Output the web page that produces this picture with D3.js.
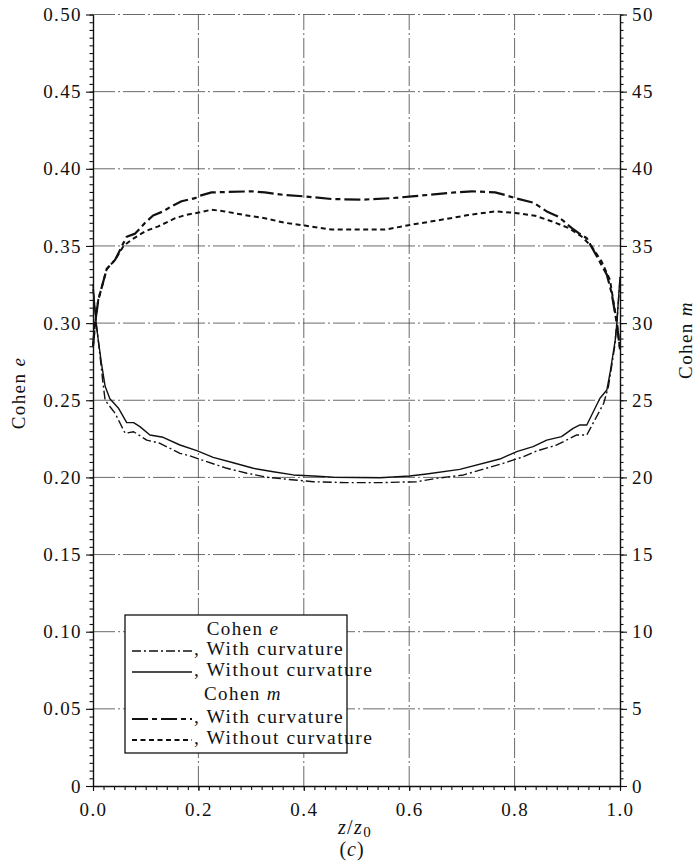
<!DOCTYPE html>
<html><head><meta charset="utf-8">
<script src="https://cdn.jsdelivr.net/npm/d3@7"></script>
<style>
html,body{margin:0;padding:0;background:#fff;}
svg{display:block;}
text{font-family:"Liberation Serif","Times New Roman",serif;fill:#111;}
</style></head>
<body><svg id="c" width="698" height="861"></svg>
<script>
// ---- data ----
const xTicks = [0.0, 0.2, 0.4, 0.6, 0.8, 1.0];
const xTickLabels = ["0.0", "0.2", "0.4", "0.6", "0.8", "1.0"];
const eTicks = [0, 0.05, 0.10, 0.15, 0.20, 0.25, 0.30, 0.35, 0.40, 0.45, 0.50];
const eTickLabels = ["0", "0.05", "0.10", "0.15", "0.20", "0.25", "0.30", "0.35", "0.40", "0.45", "0.50"];
const mTicks = [0, 5, 10, 15, 20, 25, 30, 35, 40, 45, 50];
const mTickLabels = ["0", "5", "10", "15", "20", "25", "30", "35", "40", "45", "50"];

// Cohen e, with curvature (left axis)
const zEWith = [0, 0.006, 0.01, 0.019, 0.023, 0.042, 0.061, 0.077, 0.102, 0.127, 0.165, 0.184, 0.216, 0.254, 0.292, 0.330, 0.368, 0.418, 0.481, 0.545, 0.614, 0.652, 0.703, 0.753, 0.779, 0.817, 0.842, 0.880, 0.905, 0.918, 0.937, 0.969, 0.978, 0.99, 0.994, 1.0];
const eWith = [0.322, 0.300, 0.289, 0.261, 0.250, 0.2415, 0.2286, 0.2296, 0.2242, 0.2221, 0.2156, 0.2139, 0.2102, 0.2059, 0.2027, 0.2001, 0.1988, 0.1972, 0.1966, 0.1966, 0.1972, 0.1994, 0.2016, 0.2066, 0.2092, 0.2134, 0.2171, 0.221, 0.2253, 0.2275, 0.2275, 0.248, 0.2588, 0.285, 0.30, 0.328];
// Cohen e, without curvature
const zEWithout = [0, 0.006, 0.01, 0.016, 0.023, 0.032, 0.048, 0.064, 0.077, 0.089, 0.108, 0.133, 0.165, 0.197, 0.228, 0.266, 0.304, 0.342, 0.380, 0.418, 0.456, 0.545, 0.601, 0.633, 0.696, 0.772, 0.804, 0.835, 0.861, 0.889, 0.911, 0.924, 0.937, 0.962, 0.975, 0.981, 0.991, 0.994, 1.0];
const eWithout = [0.325, 0.300, 0.289, 0.274, 0.259, 0.251, 0.245, 0.2355, 0.2355, 0.2329, 0.2275, 0.226, 0.221, 0.2173, 0.213, 0.2095, 0.2059, 0.2037, 0.2016, 0.2009, 0.2001, 0.1998, 0.2009, 0.2022, 0.2052, 0.2119, 0.2167, 0.2199, 0.2242, 0.2264, 0.2318, 0.234, 0.234, 0.2513, 0.2566, 0.2675, 0.289, 0.30, 0.33];
// Cohen m, with curvature (right axis)
const zMWith = [0, 0.004, 0.01, 0.026, 0.042, 0.058, 0.064, 0.08, 0.099, 0.114, 0.133, 0.149, 0.168, 0.194, 0.203, 0.225, 0.301, 0.326, 0.364, 0.402, 0.453, 0.51, 0.567, 0.605, 0.687, 0.719, 0.763, 0.782, 0.801, 0.836, 0.861, 0.883, 0.908, 0.921, 0.937, 0.949, 0.975, 0.984, 0.994, 1.0];
const mWith = [28.5, 30.0, 31.5, 33.5, 34.1, 35.2, 35.6, 35.8, 36.5, 36.97, 37.24, 37.57, 37.9, 38.1, 38.26, 38.47, 38.54, 38.47, 38.3, 38.21, 38.04, 38.0, 38.1, 38.21, 38.47, 38.54, 38.47, 38.3, 38.1, 37.8, 37.24, 36.9, 36.17, 35.84, 35.5, 34.76, 33.14, 31.96, 30.0, 28.3];
// Cohen m, without curvature
const zMWithout = [0, 0.004, 0.01, 0.026, 0.042, 0.058, 0.073, 0.099, 0.124, 0.156, 0.175, 0.203, 0.225, 0.25, 0.288, 0.326, 0.364, 0.402, 0.453, 0.51, 0.554, 0.605, 0.655, 0.712, 0.763, 0.801, 0.839, 0.87, 0.902, 0.927, 0.946, 0.965, 0.981, 0.994, 1.0];
const mWithout = [28.5, 30.0, 31.5, 33.5, 34.1, 35.0, 35.4, 35.95, 36.27, 36.8, 37.0, 37.18, 37.35, 37.24, 37.0, 36.8, 36.5, 36.32, 36.06, 36.06, 36.06, 36.38, 36.66, 37.0, 37.24, 37.14, 36.96, 36.6, 36.17, 35.62, 34.97, 34.0, 32.8, 30.0, 28.3];

const legendLabels = ["Cohen e", ", With curvature", ", Without curvature", "Cohen m", ", With curvature", ", Without curvature"];

// ---- layout ----
const L = 93, R = 620, T = 14.5, B = 786;
const svg = d3.select("#c");
const x = d3.scaleLinear().domain([0, 1]).range([L, R]);
const yE = d3.scaleLinear().domain([0, 0.5]).range([B, T]);
const yM = d3.scaleLinear().domain([0, 50]).range([B, T]);

// horizontal grid
svg.append("g").selectAll("line").data(eTicks.filter(d => d > 0)).join("line")
  .attr("x1", L).attr("x2", R).attr("y1", d => yE(d)).attr("y2", d => yE(d))
  .attr("stroke", "#444").attr("stroke-width", 0.8).attr("stroke-dasharray", "22,3,2,3");
// vertical grid
svg.append("g").selectAll("line").data(xTicks.filter(d => d > 0 && d < 1)).join("line")
  .attr("x1", d => x(d)).attr("x2", d => x(d)).attr("y1", B).attr("y2", T)
  .attr("stroke", "#444").attr("stroke-width", 0.8).attr("stroke-dasharray", "20,3,2,3");

// axes
function styleAxis(g) {
  g.selectAll("path.domain").attr("stroke", "#111").attr("stroke-width", 1.4);
  g.selectAll(".tick line").attr("stroke", "#111").attr("stroke-width", 1.1);
  g.selectAll(".tick text").style("font-family", '"Liberation Serif","Times New Roman",serif')
    .style("font-size", "19px").style("letter-spacing", "1.4px").attr("fill", "#111");
}
const eMinor = d3.range(0, 0.5001, 0.005);
const mMinor = d3.range(0, 50.01, 0.5);
const xMinor = d3.range(0, 1.0001, 0.02);

svg.append("g").attr("transform", `translate(${L},0)`)
  .call(d3.axisLeft(yE).tickValues(eMinor).tickSize(3.5).tickFormat("").tickSizeOuter(0))
  .call(styleAxis);
svg.append("g").attr("transform", `translate(${L},0)`)
  .call(d3.axisLeft(yE).tickValues(eTicks).tickSize(7).tickPadding(4).tickSizeOuter(0)
    .tickFormat((d, i) => eTickLabels[i]))
  .call(styleAxis).call(g => g.select("path.domain").remove());

svg.append("g").attr("transform", `translate(${R},0)`)
  .call(d3.axisRight(yM).tickValues(mMinor).tickSize(3.5).tickFormat("").tickSizeOuter(0))
  .call(styleAxis);
svg.append("g").attr("transform", `translate(${R},0)`)
  .call(d3.axisRight(yM).tickValues(mTicks).tickSize(7).tickPadding(5).tickSizeOuter(0)
    .tickFormat((d, i) => mTickLabels[i]))
  .call(styleAxis).call(g => g.select("path.domain").remove());

svg.append("g").attr("transform", `translate(0,${B})`)
  .call(d3.axisBottom(x).tickValues(xMinor).tickSize(4).tickFormat("").tickSizeOuter(0))
  .call(styleAxis);
svg.append("g").attr("transform", `translate(0,${B})`)
  .call(d3.axisBottom(x).tickValues(xTicks).tickSize(5).tickPadding(12).tickSizeOuter(0)
    .tickFormat((d, i) => xTickLabels[i]))
  .call(styleAxis).call(g => g.select("path.domain").remove());

// series
const lineE = d3.line().x(d => x(d[0])).y(d => yE(d[1]));
const lineM = d3.line().x(d => x(d[0])).y(d => yM(d[1]));
const styles = {
  eWith:    {dash: "9,3,2,3", w: 1.4},
  eWithout: {dash: null, w: 1.4},
  mWith:    {dash: "16,4,5,4", w: 2.2},
  mWithout: {dash: "5,3.5", w: 2.0}
};
function draw(gen, zs, vs, st) {
  svg.append("path").datum(zs.map((z, i) => [z, vs[i]]))
    .attr("d", gen).attr("fill", "none").attr("stroke", "#111")
    .attr("stroke-width", st.w).attr("stroke-dasharray", st.dash)
    .attr("stroke-linejoin", "round");
}
draw(lineE, zEWithout, eWithout, styles.eWithout);
draw(lineE, zEWith, eWith, styles.eWith);
draw(lineM, zMWith, mWith, styles.mWith);
draw(lineM, zMWithout, mWithout, styles.mWithout);

// axis titles
function italicTitle(g, a, b) {
  g.append("tspan").text(a);
  g.append("tspan").style("font-style", "italic").text(b);
}
const tL = svg.append("text").attr("transform", "translate(25,393) rotate(-90)")
  .attr("text-anchor", "middle").style("font-size", "19px").style("letter-spacing", "1.4px");
italicTitle(tL, "Cohen ", "e");
const tR = svg.append("text").attr("transform", "translate(692,340) rotate(-90)")
  .attr("text-anchor", "middle").style("font-size", "19px").style("letter-spacing", "1.4px");
italicTitle(tR, "Cohen ", "m");

const xt = svg.append("text").attr("x", 355).attr("y", 834).attr("text-anchor", "middle")
  .style("font-size", "20px").style("letter-spacing", "1.4px");
xt.append("tspan").style("font-style", "italic").text("z");
xt.append("tspan").text("/");
xt.append("tspan").style("font-style", "italic").text("z");
xt.append("tspan").attr("dy", 3).style("font-size", "15px").text("0");
const ct = svg.append("text").attr("x", 352).attr("y", 856).attr("text-anchor", "middle")
  .style("font-size", "20px").style("letter-spacing", "1px");
ct.append("tspan").text("(");
ct.append("tspan").style("font-style", "italic").text("c");
ct.append("tspan").text(")");

// legend
const lg = svg.append("g");
lg.append("rect").attr("x", 125).attr("y", 615).attr("width", 222).attr("height", 138)
  .attr("fill", "#fff").attr("stroke", "#111").attr("stroke-width", 1.3);
const rows = [
  {type: "head", label: legendLabels[0], ital: "e", y: 635},
  {type: "item", label: legendLabels[1], st: styles.eWith, y: 655},
  {type: "item", label: legendLabels[2], st: styles.eWithout, y: 676},
  {type: "head", label: legendLabels[3], ital: "m", y: 700},
  {type: "item", label: legendLabels[4], st: styles.mWith, y: 723},
  {type: "item", label: legendLabels[5], st: styles.mWithout, y: 744}
];
rows.forEach(r => {
  if (r.type === "head") {
    const t = lg.append("text").attr("x", 243).attr("y", r.y).attr("text-anchor", "middle")
      .style("font-size", "19px").style("letter-spacing", "1.4px");
    const base = r.label.slice(0, r.label.length - 1);
    t.append("tspan").text(base);
    t.append("tspan").style("font-style", "italic").text(r.ital);
  } else {
    lg.append("line").attr("x1", 132).attr("x2", 192).attr("y1", r.y - 4).attr("y2", r.y - 4)
      .attr("stroke", "#111").attr("stroke-width", r.st.w).attr("stroke-dasharray", r.st.dash);
    lg.append("text").attr("x", 194).attr("y", r.y)
      .style("font-size", "19.5px").style("letter-spacing", "1.5px").text(r.label);
  }
});
</script></body></html>
